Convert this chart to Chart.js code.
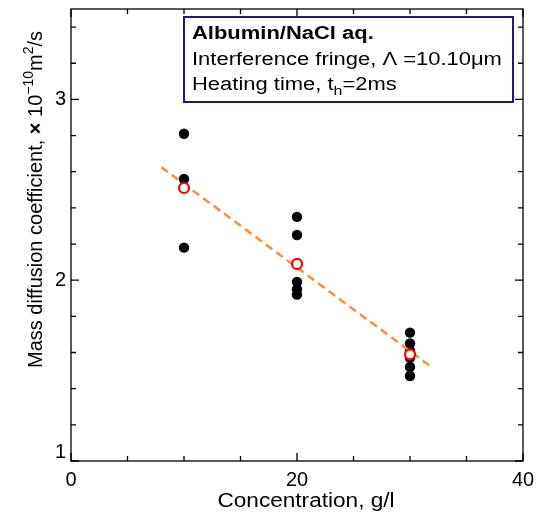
<!DOCTYPE html>
<html>
<head>
<meta charset="utf-8">
<script src="https://cdn.jsdelivr.net/npm/chart.js@4"></script>
<style>
  body{margin:0;background:#fff;}
  #wrap{width:542px;height:517px;}
</style>
</head>
<body>
<div id="wrap"><canvas id="chart" width="542" height="517"></canvas></div>
<script>
// ---- data ----
const concPoints = [10,10,10, 20,20,20,20,20, 30,30,30,30,30,30];
const diffPoints = [2.81,2.56,2.18, 2.35,2.25,1.99,1.95,1.92, 1.71,1.65,1.61,1.57,1.52,1.47];
const concMean = [10,20,30];
const diffMean = [2.51,2.09,1.59];
const fitConc = [8,32];
const fitDiff = [2.625,1.515];
const xTickLabels = ['0','20','40'];
const yTickLabels = ['1','2','3'];

const FONT = "'Liberation Sans', Arial, sans-serif";

function pairs(xs, ys){ return xs.map((x,i)=>({x:x, y:ys[i]})); }

// ticks every 5 on x, every 0.2 on y (majors get labels)
const xTickVals = [];
for(let v=0; v<=40; v+=5) xTickVals.push(v);
const yTickVals = [];
for(let i=0; i<=12; i++) yTickVals.push(Math.round((1+i*0.2)*10)/10);

// the original figure is a bit stretched sideways, so text is too
function wideText(ctx, txt, x, y, font, sx){
  ctx.save();
  ctx.font = font;
  ctx.translate(x, y);
  ctx.scale(sx, 1);
  ctx.fillText(txt, 0, 0);
  const w = ctx.measureText(txt).width * sx;
  ctx.restore();
  return w;
}

const framePlugin = {
  id:'frame',
  afterDraw(chart){
    const ctx = chart.ctx, a = chart.chartArea;
    const xs = chart.scales.x, ys = chart.scales.y;
    ctx.save();
    ctx.strokeStyle = '#000';
    ctx.lineWidth = 1.3;
    ctx.strokeRect(a.left, a.top, a.right-a.left, a.bottom-a.top);

    // inward ticks on all four sides
    xTickVals.forEach(v=>{
      const px = xs.getPixelForValue(v);
      const len = xTickLabels.includes(String(v)) ? 8 : 5;
      ctx.beginPath();
      ctx.moveTo(px, a.bottom); ctx.lineTo(px, a.bottom-len);
      ctx.moveTo(px, a.top); ctx.lineTo(px, a.top+len);
      ctx.stroke();
    });
    yTickVals.forEach(v=>{
      const py = ys.getPixelForValue(v);
      const len = yTickLabels.includes(String(v)) ? 8 : 5;
      ctx.beginPath();
      ctx.moveTo(a.left, py); ctx.lineTo(a.left+len, py);
      ctx.moveTo(a.right, py); ctx.lineTo(a.right-len, py);
      ctx.stroke();
    });

    // lowest y label sits above the corner
    ctx.fillStyle = '#000';
    ctx.font = '20px ' + FONT;
    ctx.textAlign = 'right';
    ctx.textBaseline = 'middle';
    ctx.fillText(yTickLabels[0], a.left-5, ys.getPixelForValue(1)-9);

    // x title
    ctx.textAlign = 'left';
    ctx.textBaseline = 'alphabetic';
    ctx.font = '20px ' + FONT;
    const xt = 'Concentration, g/l';
    const xw = ctx.measureText(xt).width * 1.13;
    wideText(ctx, xt, xs.getPixelForValue(20) + 9 - xw/2, 507, '20px ' + FONT, 1.13);

    // y title with superscripts
    ctx.translate(42, 368);
    ctx.rotate(-Math.PI/2);
    const parts = [
      ['Mass diffusion coefficient, ', 20, 0],
      ['\u00d7', 20, 0, 'bold'],
      [' 10', 20, 0],
      ['\u221210', 14, -9],
      ['m', 20, 0],
      ['2', 14, -9],
      ['/s', 20, 0]
    ];
    let cx = 0;
    parts.forEach(p=>{
      ctx.font = (p[3] ? p[3]+' ' : '') + p[1] + 'px ' + FONT;
      ctx.fillText(p[0], cx, p[2]);
      cx += ctx.measureText(p[0]).width;
    });
    ctx.restore();

    // annotation box
    ctx.save();
    ctx.fillStyle = '#fff';
    ctx.fillRect(184, 17, 329, 85);
    ctx.strokeStyle = '#1a1a7e';
    ctx.lineWidth = 2;
    ctx.strokeRect(184, 17, 329, 85);
    ctx.fillStyle = '#000';
    ctx.textAlign = 'left';
    ctx.textBaseline = 'alphabetic';
    const sx = 1.22;
    wideText(ctx, 'Albumin/NaCl aq.', 192, 39, 'bold 18px ' + FONT, sx);
    wideText(ctx, 'Interference fringe, \u039b =10.10\u03bcm', 192, 65, '18px ' + FONT, sx);
    let w = wideText(ctx, 'Heating time, t', 192, 90, '18px ' + FONT, sx);
    let w2 = wideText(ctx, 'h', 192+w, 95, '13px ' + FONT, sx);
    wideText(ctx, '=2ms', 192+w+w2, 90, '18px ' + FONT, sx);
    ctx.restore();
  }
};

new Chart(document.getElementById('chart'), {
  type:'scatter',
  data:{
    datasets:[
      {
        label:'Measured',
        data:pairs(concPoints, diffPoints),
        pointRadius:5.2,
        pointBackgroundColor:'#000',
        pointBorderColor:'#000',
        pointBorderWidth:0,
        order:3
      },
      {
        label:'Fit',
        type:'line',
        data:pairs(fitConc, fitDiff),
        borderColor:'#ff8c3a',
        borderWidth:2.5,
        borderDash:[8,5],
        pointRadius:0,
        fill:false,
        order:2
      },
      {
        label:'Mean',
        data:pairs(concMean, diffMean),
        pointRadius:5,
        pointBackgroundColor:'#fff',
        pointBorderColor:'#ff0000',
        pointBorderWidth:2.2,
        order:1
      }
    ]
  },
  options:{
    responsive:false,
    animation:false,
    layout:{padding:{top:9, right:19, left:0, bottom:0}},
    plugins:{legend:{display:false}, tooltip:{enabled:false}},
    scales:{
      x:{
        type:'linear', min:0, max:40,
        afterBuildTicks(s){ s.ticks = xTickVals.map(v=>({value:v})); },
        afterFit(s){ s.height = 56; s.paddingLeft = 0; s.paddingRight = 0; },
        grid:{display:false, drawTicks:false},
        border:{display:false},
        ticks:{
          autoSkip:false, maxRotation:0, padding:7, color:'#000',
          font:{family:FONT, size:20},
          callback:v=> xTickLabels.includes(String(v)) ? String(v) : ''
        }
      },
      y:{
        type:'linear', min:1, max:3.5,
        afterBuildTicks(s){ s.ticks = yTickVals.map(v=>({value:v})); },
        afterFit(s){ s.width = 71; s.paddingTop = 0; s.paddingBottom = 0; },
        grid:{display:false, drawTicks:false},
        border:{display:false},
        ticks:{
          autoSkip:false, padding:5, color:'#000',
          font:{family:FONT, size:20},
          callback:v=> (v!==1 && yTickLabels.includes(String(v))) ? String(v) : ''
        }
      }
    }
  },
  plugins:[framePlugin]
});
</script>
</body>
</html>
